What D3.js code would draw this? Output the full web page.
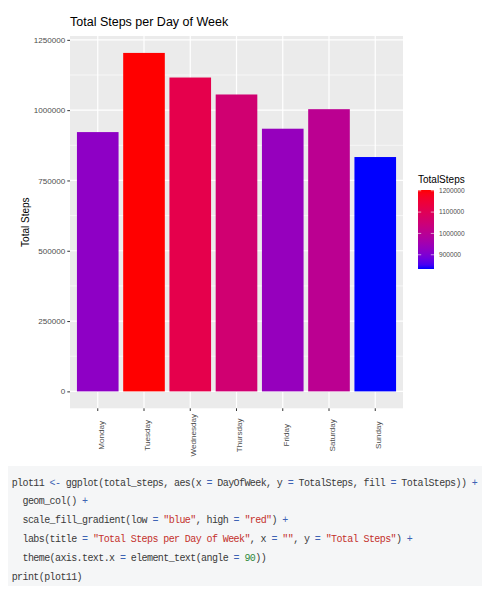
<!DOCTYPE html>
<html>
<head>
<meta charset="utf-8">
<script src="https://cdn.jsdelivr.net/npm/d3@7"></script>
<style>
  body { margin: 0; background: #fff; }
  text { font-family: "Liberation Sans", Arial, sans-serif; }
</style>
</head>
<body>
<div id="chart-area"></div>
<script>
// data
var days = ["Monday", "Tuesday", "Wednesday", "Thursday", "Friday", "Saturday", "Sunday"];
var totalSteps = [922000, 1203500, 1116000, 1055700, 934000, 1003500, 833300];
var yTicks = [0, 250000, 500000, 750000, 1000000, 1250000];
var yMinor = [125000, 375000, 625000, 875000, 1125000];
var legendTicks = [900000, 1000000, 1100000, 1200000];

var codeLines = [
  'plot11 <- ggplot(total_steps, aes(x = DayOfWeek, y = TotalSteps, fill = TotalSteps)) +',
  '  geom_col() +',
  '  scale_fill_gradient(low = "blue", high = "red") +',
  '  labs(title = "Total Steps per Day of Week", x = "", y = "Total Steps") +',
  '  theme(axis.text.x = element_text(angle = 90))',
  'print(plot11)'
];

var data = days.map((d, i) => ({ day: d, steps: totalSteps[i] }));

//panel box
var panel = { left: 70, right: 403, top: 36, bottom: 408.3 };

var svg = d3.select("#chart-area").append("svg")
  .attr("width", 490)
  .attr("height", 597);

svg.append("rect").attr("width", 490).attr("height", 597).attr("fill", "#fff");

// scales (ggplot style 5% expand on y, 0.6 units on x)
var maxV = d3.max(totalSteps), minV = d3.min(totalSteps);
var pad = maxV * 0.05;
var y = d3.scaleLinear()
  .domain([-pad, maxV + pad])
  .range([panel.bottom, panel.top]);

var x = d3.scaleBand()
  .domain(days)
  .range([panel.left, panel.right])
  .paddingInner(0.1)
  .paddingOuter(0.15);

var color = d3.scaleLinear()
  .domain([minV, maxV])
  .range(["blue", "red"])
  .interpolate(d3.interpolateLab);

// panel background + grid
svg.append("rect")
  .attr("x", panel.left).attr("y", panel.top)
  .attr("width", panel.right - panel.left)
  .attr("height", panel.bottom - panel.top)
  .attr("fill", "#ebebeb");

svg.append("g").selectAll("line").data(yMinor).join("line")
  .attr("x1", panel.left).attr("x2", panel.right)
  .attr("y1", d => y(d)).attr("y2", d => y(d))
  .attr("stroke", "#fff").attr("stroke-width", 0.6);

svg.append("g").selectAll("line").data(yTicks).join("line")
  .attr("x1", panel.left).attr("x2", panel.right)
  .attr("y1", d => y(d)).attr("y2", d => y(d))
  .attr("stroke", "#fff").attr("stroke-width", 1.2);

svg.append("g").selectAll("line").data(days).join("line")
  .attr("x1", d => x(d) + x.bandwidth() / 2).attr("x2", d => x(d) + x.bandwidth() / 2)
  .attr("y1", panel.top).attr("y2", panel.bottom)
  .attr("stroke", "#fff").attr("stroke-width", 1.2);

// bars
svg.append("g").selectAll("rect").data(data).join("rect")
  .attr("x", d => x(d.day))
  .attr("width", x.bandwidth())
  .attr("y", d => y(d.steps))
  .attr("height", d => y(0) - y(d.steps))
  .attr("fill", d => color(d.steps));

// y axis
var yAxis = svg.append("g")
  .attr("transform", "translate(" + panel.left + ",0)")
  .call(d3.axisLeft(y).tickValues(yTicks).tickSize(2.7).tickPadding(2).tickFormat(d3.format("d")));
yAxis.select(".domain").remove();
yAxis.selectAll("line").attr("stroke", "#333");
yAxis.selectAll("text").attr("fill", "#4d4d4d").attr("font-size", "8.1px")
  .style("font-family", "'Liberation Sans', Arial, sans-serif");

// x axis
var xAxis = svg.append("g")
  .attr("transform", "translate(0," + panel.bottom + ")")
  .call(d3.axisBottom(x).tickSize(2.7).tickPadding(0));
xAxis.select(".domain").remove();
xAxis.selectAll("line").attr("stroke", "#333");
xAxis.selectAll("text")
  .attr("fill", "#4d4d4d").attr("font-size", "8.1px")
  .style("font-family", "'Liberation Sans', Arial, sans-serif")
  .attr("text-anchor", "middle")
  .attr("x", 0).attr("y", 0).attr("dy", "0.71em")
  .attr("transform", "translate(0,27) rotate(-90)");

// titles
svg.append("text")
  .attr("x", panel.left).attr("y", 26)
  .attr("font-size", "12.5px").attr("fill", "#000")
  .text("Total Steps per Day of Week");

svg.append("text")
  .attr("transform", "translate(28.5," + (panel.top + panel.bottom) / 2 + ") rotate(-90)")
  .attr("text-anchor", "middle")
  .attr("font-size", "10px").attr("fill", "#000")
  .text("Total Steps");

// legend colorbar
var leg = { x: 418, w: 16, top: 190, bottom: 269 };
var ly = d3.scaleLinear().domain([minV, maxV]).range([leg.bottom, leg.top]);

var grad = svg.append("defs").append("linearGradient")
  .attr("id", "grad").attr("x1", 0).attr("y1", 1).attr("x2", 0).attr("y2", 0);
grad.selectAll("stop").data(d3.range(0, 1.0001, 0.05)).join("stop")
  .attr("offset", d => d)
  .attr("stop-color", d => color(minV + d * (maxV - minV)));

svg.append("text")
  .attr("x", leg.x).attr("y", 183)
  .attr("font-size", "10px").attr("fill", "#000")
  .text("TotalSteps");

svg.append("rect")
  .attr("x", leg.x).attr("y", leg.top)
  .attr("width", leg.w).attr("height", leg.bottom - leg.top)
  .attr("fill", "url(#grad)");

var lt = svg.append("g").selectAll("g").data(legendTicks).join("g");
lt.append("line")
  .attr("x1", leg.x).attr("x2", leg.x + 3.2)
  .attr("y1", d => ly(d)).attr("y2", d => ly(d))
  .attr("stroke", "#fff").attr("stroke-width", 0.6);
lt.append("line")
  .attr("x1", leg.x + leg.w - 3.2).attr("x2", leg.x + leg.w)
  .attr("y1", d => ly(d)).attr("y2", d => ly(d))
  .attr("stroke", "#fff").attr("stroke-width", 0.6);
lt.append("text")
  .attr("x", leg.x + leg.w + 5).attr("y", d => ly(d))
  .attr("dy", "0.35em")
  .attr("font-size", "6.6px").attr("fill", "#4d4d4d")
  .text(d => d);

// code block under the chart
svg.append("rect")
  .attr("x", 8).attr("y", 466).attr("width", 474).attr("height", 120)
  .attr("fill", "#f5f6f7");

var tokColors = { str: "#c4302b", op: "#3e63b4", num: "#2f8a3c", txt: "#3a3a3a" };
function tokenize(line) {
  var out = [], re = /("[^"]*")|(<-|=|\+)|(\b\d+\b)/g, last = 0, m;
  while ((m = re.exec(line)) !== null) {
    if (m.index > last) out.push({ t: line.slice(last, m.index), c: "txt" });
    out.push({ t: m[0], c: m[1] ? "str" : m[2] ? "op" : "num" });
    last = re.lastIndex;
  }
  if (last < line.length) out.push({ t: line.slice(last), c: "txt" });
  return out;
}

var lineY = d3.scaleLinear().domain([0, codeLines.length - 1]).range([485.5, 579.5]);
svg.append("g").selectAll("text").data(codeLines).join("text")
  .attr("x", 11.7).attr("y", (d, i) => lineY(i))
  .attr("xml:space", "preserve")
  .style("white-space", "pre")
  .style("font-family", "'Liberation Mono', 'DejaVu Sans Mono', monospace")
  .attr("font-size", "10px")
  .attr("letter-spacing", "-0.59px")
  .selectAll("tspan").data(d => tokenize(d)).join("tspan")
  .attr("fill", d => tokColors[d.c])
  .text(d => d.t);
</script>
</body>
</html>
